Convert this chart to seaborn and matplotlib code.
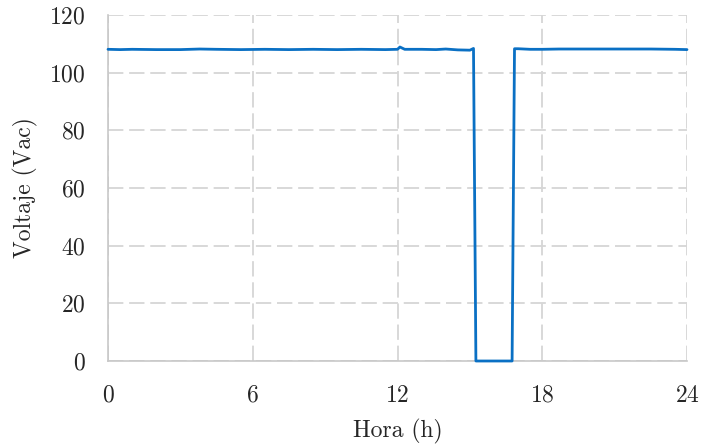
import matplotlib
matplotlib.use("Agg")
import matplotlib.pyplot as plt
import seaborn as sns
import pandas as pd

hora = [0.0, 0.5, 1.0, 2.0, 3.0, 3.8, 4.5, 5.5, 6.5, 7.5, 8.5, 9.5, 10.5, 11.5, 12.0, 12.1,
        12.3, 13.0, 13.6, 14.0, 14.5, 15.0, 15.15, 15.25, 16.75, 16.85, 17.0, 17.5,
        18.0, 18.7, 19.5, 20.5, 21.5, 22.5, 23.5, 24.0]
voltaje = [108.1, 108.0, 108.1, 108.0, 108.0, 108.2, 108.1, 108.0, 108.1, 108.0, 108.1, 108.0,
           108.1, 108.0, 108.1, 108.9, 108.1, 108.1, 108.0, 108.2, 107.9, 107.8, 108.4, 0.0,
           0.0, 108.3, 108.3, 108.1, 108.1, 108.2, 108.2, 108.2, 108.2, 108.2, 108.1, 108.0]

x_ticks = [0, 6, 12, 18, 24]
y_ticks = [0, 20, 40, 60, 80, 100, 120]

df = pd.DataFrame({"Hora": hora, "Voltaje": voltaje})

sns.set_style("white")
plt.rcParams["font.family"] = ["cmr10", "DejaVu Serif"]
plt.rcParams["axes.formatter.use_mathtext"] = True

fig = plt.figure(figsize=(7.03, 4.44), dpi=100)
ax = fig.add_axes([108/703, 1 - 361/444, (687-108)/703, (361-15)/444])

sns.lineplot(data=df, x="Hora", y="Voltaje", ax=ax, color="#0A70C4", linewidth=2.0,
             estimator=None, sort=False, zorder=5, clip_on=False)

ax.set_xlim(0, 24)
ax.set_ylim(0, 120)
ax.set_xticks(x_ticks)
ax.set_yticks(y_ticks)
ax.grid(True, color="#D6D6D6", linestyle=(0, (8.5, 3.2)), linewidth=1.3)
ax.set_axisbelow(True)
for s in ["top", "right"]:
    ax.spines[s].set_visible(False)
for s in ["left", "bottom"]:
    ax.spines[s].set_color("#C8C8C8")
    ax.spines[s].set_linewidth(1.2)
ax.tick_params(axis="both", length=0, labelsize=17)
ax.tick_params(axis="x", pad=17)
ax.tick_params(axis="y", pad=16)
ax.set_xlabel("Hora (h)", fontsize=17, labelpad=9)
ax.set_ylabel("Voltaje (Vac)", fontsize=17, labelpad=8)

fig.savefig("out.png", dpi=100)
